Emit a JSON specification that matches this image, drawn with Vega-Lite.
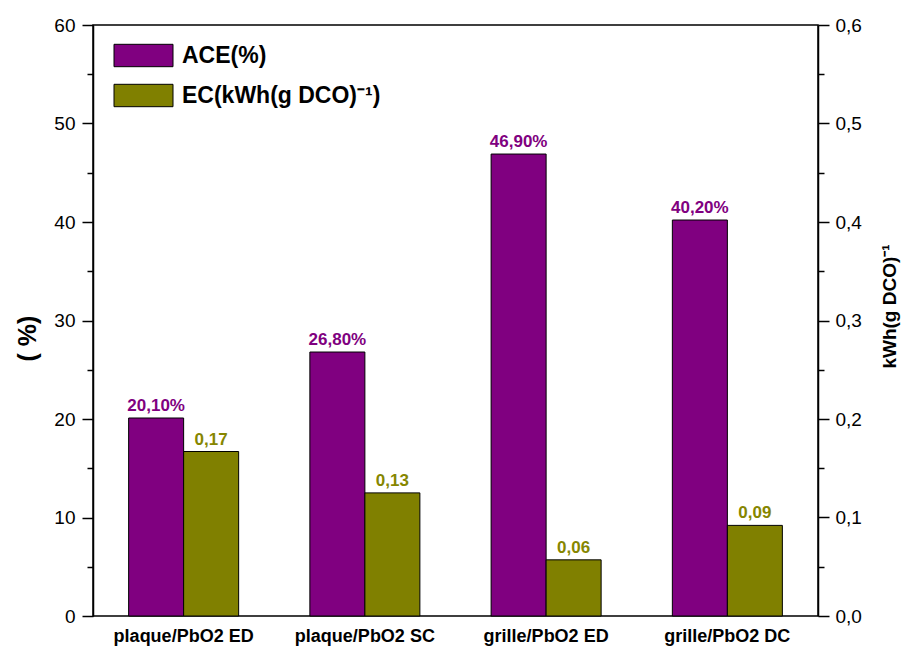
{
  "$schema": "https://vega.github.io/schema/vega-lite/v6.json",
  "width": 725,
  "height": 591,
  "autosize": {"type": "none"},
  "padding": {"left": 93, "top": 25, "right": 87, "bottom": 32},
  "background": "white",
  "config": {
    "font": "Liberation Sans",
    "view": {"stroke": "black", "strokeWidth": 1.5}
  },
  "data": {
    "values": [
      {"electrode": "plaque/PbO2 ED", "series": "ACE(%)", "value": 20.1, "label": "20,10%"},
      {"electrode": "plaque/PbO2 SC", "series": "ACE(%)", "value": 26.8, "label": "26,80%"},
      {"electrode": "grille/PbO2 ED", "series": "ACE(%)", "value": 46.9, "label": "46,90%"},
      {"electrode": "grille/PbO2 DC", "series": "ACE(%)", "value": 40.2, "label": "40,20%"},
      {"electrode": "plaque/PbO2 ED", "series": "EC(kWh(g DCO)⁻¹)", "value": 0.167, "label": "0,17"},
      {"electrode": "plaque/PbO2 SC", "series": "EC(kWh(g DCO)⁻¹)", "value": 0.125, "label": "0,13"},
      {"electrode": "grille/PbO2 ED", "series": "EC(kWh(g DCO)⁻¹)", "value": 0.057, "label": "0,06"},
      {"electrode": "grille/PbO2 DC", "series": "EC(kWh(g DCO)⁻¹)", "value": 0.092, "label": "0,09"}
    ]
  },
  "encoding": {
    "x": {
      "field": "electrode",
      "type": "nominal",
      "sort": ["plaque/PbO2 ED", "plaque/PbO2 SC", "grille/PbO2 ED", "grille/PbO2 DC"],
      "scale": {"paddingInner": 0.393, "paddingOuter": 0.1966},
      "axis": {
        "orient": "bottom",
        "ticks": false,
        "domain": false,
        "grid": false,
        "labelAngle": 0,
        "labelFontSize": 18,
        "labelFontWeight": "bold",
        "labelColor": "black",
        "labelPadding": 11,
        "title": null
      }
    },
    "xOffset": {
      "field": "series",
      "type": "nominal",
      "scale": {"domain": ["ACE(%)", "EC(kWh(g DCO)⁻¹)"], "paddingInner": 0, "paddingOuter": 0}
    }
  },
  "layer": [
    {
      "transform": [{"filter": "datum.series === 'ACE(%)'"}],
      "layer": [
        {
          "mark": {"type": "bar", "stroke": "black", "strokeWidth": 1, "opacity": 1},
          "encoding": {
            "y": {
              "field": "value",
              "type": "quantitative",
              "scale": {"domain": [0, 60], "nice": false, "zero": true},
              "axis": {
                "orient": "left",
                "values": [0, 5, 10, 15, 20, 25, 30, 35, 40, 45, 50, 55, 60],
                "labelExpr": "datum.value % 10 === 0 ? datum.label : ''",
                "tickSize": {"condition": {"test": "datum.value % 10 === 0", "value": 11}, "value": 6},
                "tickColor": "black",
                "tickWidth": 1.5,
                "domainColor": "black",
                "domainWidth": 1.5,
                "grid": false,
                "labelFontSize": 19,
                "labelColor": "black",
                "labelPadding": 7,
                "labelFlush": false,
                "labelOverlap": false,
                "title": "( %)",
                "titleFontSize": 25,
                "titleFontWeight": "bold",
                "titleColor": "black",
                "titlePadding": 13,
                "titleY": 313
              }
            },
            "color": {
              "field": "series",
              "type": "nominal",
              "scale": {"domain": ["ACE(%)", "EC(kWh(g DCO)⁻¹)"], "range": ["#800080", "#808000"]},
              "legend": {
                "title": null,
                "orient": "none",
                "legendX": 39,
                "legendY": 19,
                "padding": 0,
                "symbolType": "M-2.95,-1.12H2.95V1.12H-2.95Z",
                "symbolSize": 400,
                "symbolStrokeColor": "black",
                "symbolStrokeWidth": 1,
                "symbolOpacity": 1,
                "labelFontSize": 23,
                "labelFontWeight": "bold",
                "labelColor": "black",
                "labelOffset": 27,
                "labelLimit": 400,
                "rowPadding": 13
              }
            }
          }
        },
        {
          "mark": {"type": "text", "fontSize": 17, "fontWeight": "bold", "color": "#800080", "baseline": "alphabetic", "dy": -7},
          "encoding": {
            "y": {"field": "value", "type": "quantitative"},
            "text": {"field": "label"}
          }
        }
      ]
    },
    {
      "transform": [{"filter": "datum.series !== 'ACE(%)'"}],
      "layer": [
        {
          "mark": {"type": "bar", "stroke": "black", "strokeWidth": 1, "opacity": 1},
          "encoding": {
            "y": {
              "field": "value",
              "type": "quantitative",
              "scale": {"domain": [0, 0.6], "nice": false, "zero": true},
              "axis": {
                "orient": "right",
                "values": [0, 0.05, 0.1, 0.15, 0.2, 0.25, 0.3, 0.35, 0.4, 0.45, 0.5, 0.55, 0.6],
                "labelExpr": "abs(round(datum.value * 10) - datum.value * 10) < 0.001 ? replace(format(datum.value, '.1f'), '.', ',') : ''",
                "tickSize": {"condition": {"test": "abs(round(datum.value * 10) - datum.value * 10) < 0.001", "value": 11}, "value": 6},
                "tickColor": "black",
                "tickWidth": 1.5,
                "domainColor": "black",
                "domainWidth": 1.5,
                "grid": false,
                "labelFontSize": 19,
                "labelColor": "black",
                "labelPadding": 6,
                "labelFlush": false,
                "labelOverlap": false,
                "title": "kWh(g DCO)⁻¹",
                "titleFontSize": 19,
                "titleFontWeight": "bold",
                "titleColor": "black",
                "titleAngle": 270,
                "titleBaseline": "top",
                "titlePadding": 19,
                "titleY": 281
              }
            },
            "color": {
              "field": "series",
              "type": "nominal",
              "scale": {"domain": ["ACE(%)", "EC(kWh(g DCO)⁻¹)"], "range": ["#800080", "#808000"]}
            }
          }
        },
        {
          "mark": {"type": "text", "fontSize": 17, "fontWeight": "bold", "color": "#868600", "baseline": "alphabetic", "dy": -7},
          "encoding": {
            "y": {"field": "value", "type": "quantitative"},
            "text": {"field": "label"}
          }
        }
      ]
    }
  ],
  "resolve": {"scale": {"y": "independent"}}
}
